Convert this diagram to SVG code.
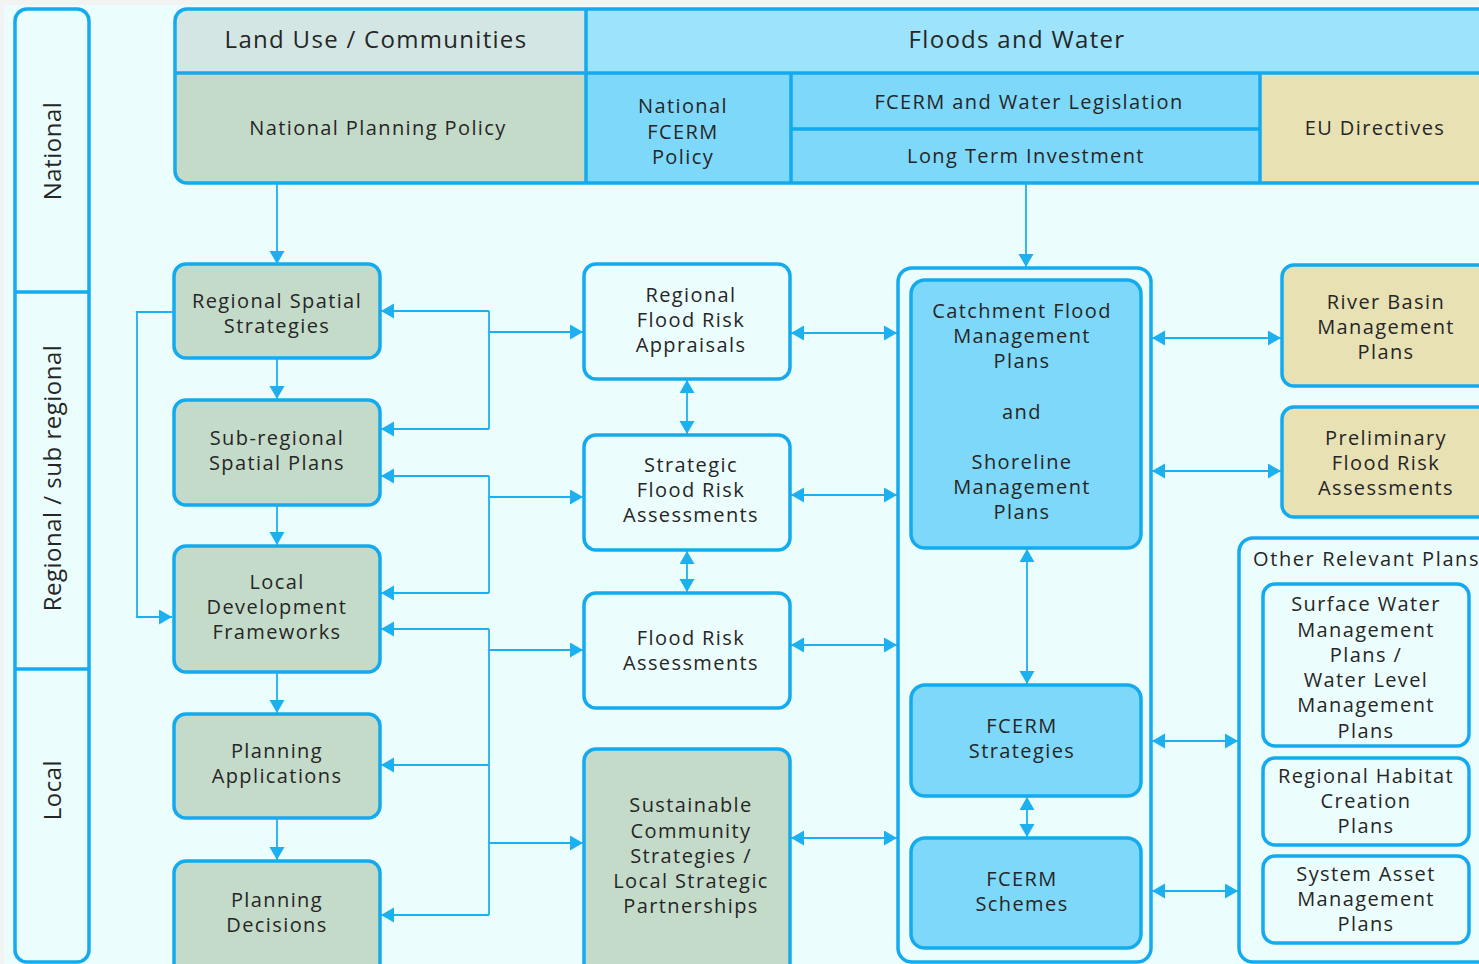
<svg xmlns="http://www.w3.org/2000/svg" width="1479" height="964" viewBox="0 0 1479 964">
<defs>
<style>
.t{font-family:"Open Sans","Noto Sans","Liberation Sans",sans-serif;font-size:20px;letter-spacing:1.4px;fill:#262626;text-anchor:middle}
.h{font-family:"Open Sans","Noto Sans","Liberation Sans",sans-serif;font-size:24px;letter-spacing:1.3px;fill:#262626;text-anchor:middle}
.v{font-family:"Open Sans","Noto Sans","Liberation Sans",sans-serif;font-size:24px;letter-spacing:0.5px;fill:#262626;text-anchor:middle}
.bx{stroke:#14aaee;stroke-width:3.5}
.green{fill:#c5dbca}
.white{fill:#ebfdfd}
.blue{fill:#7ed8fa}
.khaki{fill:#e7e1b4}
.ln{stroke:#14aaee;stroke-width:3.5;fill:none}
.c{stroke:#1db0f0;stroke-width:1.8;fill:none}
.a1{marker-end:url(#ah)}
.a2{marker-end:url(#ah);marker-start:url(#ah)}
</style>
<marker id="ah" markerUnits="userSpaceOnUse" markerWidth="14" markerHeight="16" refX="13" refY="7.5" orient="auto-start-reverse" viewBox="0 0 14 16">
<path d="M0,0 L13,7.5 L0,15 Z" fill="#1db0f0"/>
</marker>
</defs>
<rect x="0" y="0" width="1479" height="964" fill="#f3f3f3"/>
<rect x="4" y="5" width="1475" height="959" fill="#ebfdfd"/>

<g id="levels">
<rect x="15" y="9" width="74" height="953" rx="12" class="bx" fill="#ebfdfd"/>
<line x1="15" y1="292" x2="89" y2="292" class="ln"/>
<line x1="15" y1="669" x2="89" y2="669" class="ln"/>
<text class="v" transform="translate(61,151) rotate(-90)">National</text>
<text class="v" transform="translate(61,478) rotate(-90)">Regional / sub regional</text>
<text class="v" transform="translate(61,790) rotate(-90)">Local</text>
</g>

<g id="header">
<path d="M175,21 Q175,9 187,9 H586 V73 H175 Z" fill="#d3e6e4"/>
<path d="M175,73 H586 V183 H187 Q175,183 175,171 Z" fill="#c5dbca"/>
<rect x="586" y="9" width="909" height="64" fill="#9de3fb"/>
<rect x="586" y="73" width="205" height="110" fill="#7ed8fa"/>
<rect x="791" y="73" width="469" height="110" fill="#7ed8fa"/>
<rect x="1260" y="73" width="235" height="110" fill="#e7e1b4"/>
<rect x="175" y="9" width="1320" height="174" rx="12" class="ln"/>
<line x1="175" y1="73" x2="1495" y2="73" class="ln"/>
<line x1="586" y1="9" x2="586" y2="183" class="ln"/>
<line x1="791" y1="73" x2="791" y2="183" class="ln"/>
<line x1="791" y1="129" x2="1260" y2="129" class="ln"/>
<line x1="1260" y1="73" x2="1260" y2="183" class="ln"/>
<text class="h" x="376" y="48">Land Use / Communities</text>
<text class="h" x="1017" y="48">Floods and Water</text>
<text class="t" x="378" y="135">National Planning Policy</text>
<text class="t" x="683" y="113">National</text>
<text class="t" x="683" y="139">FCERM</text>
<text class="t" x="683" y="164">Policy</text>
<text class="t" x="1029" y="109">FCERM and Water Legislation</text>
<text class="t" x="1026" y="163">Long Term Investment</text>
<text class="t" x="1375" y="135">EU Directives</text>
</g>

<g id="n-rss"><rect x="174" y="264" width="206" height="94" rx="12" class="bx green"/>
<text class="t" x="277" y="308">Regional Spatial</text><text class="t" x="277" y="333">Strategies</text></g>
<g id="n-ssp"><rect x="174" y="400" width="206" height="105" rx="12" class="bx green"/>
<text class="t" x="277" y="445">Sub-regional</text><text class="t" x="277" y="470">Spatial Plans</text></g>
<g id="n-ldf"><rect x="174" y="546" width="206" height="126" rx="12" class="bx green"/>
<text class="t" x="277" y="589">Local</text><text class="t" x="277" y="614">Development</text><text class="t" x="277" y="639">Frameworks</text></g>
<g id="n-pa"><rect x="174" y="714" width="206" height="104" rx="12" class="bx green"/>
<text class="t" x="277" y="758">Planning</text><text class="t" x="277" y="783">Applications</text></g>
<g id="n-pd"><rect x="174" y="861" width="206" height="125" rx="12" class="bx green"/>
<text class="t" x="277" y="907">Planning</text><text class="t" x="277" y="932">Decisions</text></g>

<g id="n-rfra"><rect x="584" y="264" width="206" height="115" rx="12" class="bx white"/>
<text class="t" x="691" y="302">Regional</text><text class="t" x="691" y="327">Flood Risk</text><text class="t" x="691" y="352">Appraisals</text></g>
<g id="n-sfra"><rect x="584" y="435" width="206" height="115" rx="12" class="bx white"/>
<text class="t" x="691" y="472">Strategic</text><text class="t" x="691" y="497">Flood Risk</text><text class="t" x="691" y="522">Assessments</text></g>
<g id="n-fra"><rect x="584" y="593" width="206" height="115" rx="12" class="bx white"/>
<text class="t" x="691" y="645">Flood Risk</text><text class="t" x="691" y="670">Assessments</text></g>
<g id="n-scs"><rect x="584" y="749" width="206" height="235" rx="12" class="bx green"/>
<text class="t" x="691" y="812">Sustainable</text><text class="t" x="691" y="838">Community</text><text class="t" x="691" y="863">Strategies /</text><text class="t" x="691" y="888">Local Strategic</text><text class="t" x="691" y="913">Partnerships</text></g>

<g id="n-fcerm-group"><rect x="898" y="268" width="253" height="694" rx="14" class="bx white"/></g>
<g id="n-cfmp"><rect x="911" y="280" width="230" height="268" rx="14" class="bx blue"/>
<text class="t" x="1022" y="318">Catchment Flood</text><text class="t" x="1022" y="343">Management</text><text class="t" x="1022" y="368">Plans</text>
<text class="t" x="1022" y="419">and</text>
<text class="t" x="1022" y="469">Shoreline</text><text class="t" x="1022" y="494">Management</text><text class="t" x="1022" y="519">Plans</text></g>
<g id="n-strat"><rect x="911" y="685" width="230" height="111" rx="14" class="bx blue"/>
<text class="t" x="1022" y="733">FCERM</text><text class="t" x="1022" y="758">Strategies</text></g>
<g id="n-schemes"><rect x="911" y="838" width="230" height="110" rx="14" class="bx blue"/>
<text class="t" x="1022" y="886">FCERM</text><text class="t" x="1022" y="911">Schemes</text></g>

<g id="n-rbmp"><rect x="1282" y="265" width="215" height="121" rx="12" class="bx khaki"/>
<text class="t" x="1386" y="309">River Basin</text><text class="t" x="1386" y="334">Management</text><text class="t" x="1386" y="359">Plans</text></g>
<g id="n-pfra"><rect x="1282" y="407" width="215" height="110" rx="12" class="bx khaki"/>
<text class="t" x="1386" y="445">Preliminary</text><text class="t" x="1386" y="470">Flood Risk</text><text class="t" x="1386" y="495">Assessments</text></g>

<g id="n-other"><rect x="1239" y="538" width="260" height="424" rx="14" class="bx white"/>
<text class="t" x="1253" y="566" style="text-anchor:start;letter-spacing:1.6px">Other Relevant Plans</text></g>
<g id="n-swmp"><rect x="1263" y="584" width="206" height="162" rx="12" class="bx white"/>
<text class="t" x="1366" y="611">Surface Water</text><text class="t" x="1366" y="637">Management</text><text class="t" x="1366" y="662">Plans /</text><text class="t" x="1366" y="687">Water Level</text><text class="t" x="1366" y="712">Management</text><text class="t" x="1366" y="738">Plans</text></g>
<g id="n-rhcp"><rect x="1263" y="758" width="206" height="87" rx="12" class="bx white"/>
<text class="t" x="1366" y="783">Regional Habitat</text><text class="t" x="1366" y="808">Creation</text><text class="t" x="1366" y="833">Plans</text></g>
<g id="n-samp"><rect x="1263" y="856" width="206" height="87" rx="12" class="bx white"/>
<text class="t" x="1366" y="881">System Asset</text><text class="t" x="1366" y="906">Management</text><text class="t" x="1366" y="931">Plans</text></g>

<g id="connectors">
<line x1="277" y1="183" x2="277" y2="264" class="c a1"/>
<line x1="1026" y1="183" x2="1026" y2="267" class="c a1"/>
<line x1="277" y1="358" x2="277" y2="399" class="c a1"/>
<line x1="277" y1="505" x2="277" y2="545" class="c a1"/>
<line x1="277" y1="672" x2="277" y2="713" class="c a1"/>
<line x1="277" y1="818" x2="277" y2="860" class="c a1"/>
<polyline points="174,312 137,312 137,617 172,617" class="c a1"/>
<polyline points="489,311 489,429" class="c"/>
<line x1="489" y1="311" x2="381" y2="311" class="c a1"/>
<line x1="489" y1="429" x2="381" y2="429" class="c a1"/>
<line x1="489" y1="332" x2="583" y2="332" class="c a1"/>
<polyline points="489,476 489,593" class="c"/>
<line x1="489" y1="476" x2="381" y2="476" class="c a1"/>
<line x1="489" y1="593" x2="381" y2="593" class="c a1"/>
<line x1="489" y1="497" x2="583" y2="497" class="c a1"/>
<polyline points="489,629 489,915" class="c"/>
<line x1="489" y1="629" x2="381" y2="629" class="c a1"/>
<line x1="489" y1="765" x2="381" y2="765" class="c a1"/>
<line x1="489" y1="915" x2="381" y2="915" class="c a1"/>
<line x1="489" y1="650" x2="583" y2="650" class="c a1"/>
<line x1="489" y1="843" x2="583" y2="843" class="c a1"/>
<line x1="687" y1="380" x2="687" y2="434" class="c a2"/>
<line x1="687" y1="551" x2="687" y2="592" class="c a2"/>
<line x1="791" y1="333" x2="897" y2="333" class="c a2"/>
<line x1="791" y1="495" x2="897" y2="495" class="c a2"/>
<line x1="791" y1="645" x2="897" y2="645" class="c a2"/>
<line x1="791" y1="838" x2="897" y2="838" class="c a2"/>
<line x1="1027" y1="549" x2="1027" y2="684" class="c a2"/>
<line x1="1027" y1="797" x2="1027" y2="837" class="c a2"/>
<line x1="1152" y1="338" x2="1281" y2="338" class="c a2"/>
<line x1="1152" y1="471" x2="1281" y2="471" class="c a2"/>
<line x1="1152" y1="741" x2="1238" y2="741" class="c a2"/>
<line x1="1152" y1="891" x2="1238" y2="891" class="c a2"/>
</g>
</svg>
